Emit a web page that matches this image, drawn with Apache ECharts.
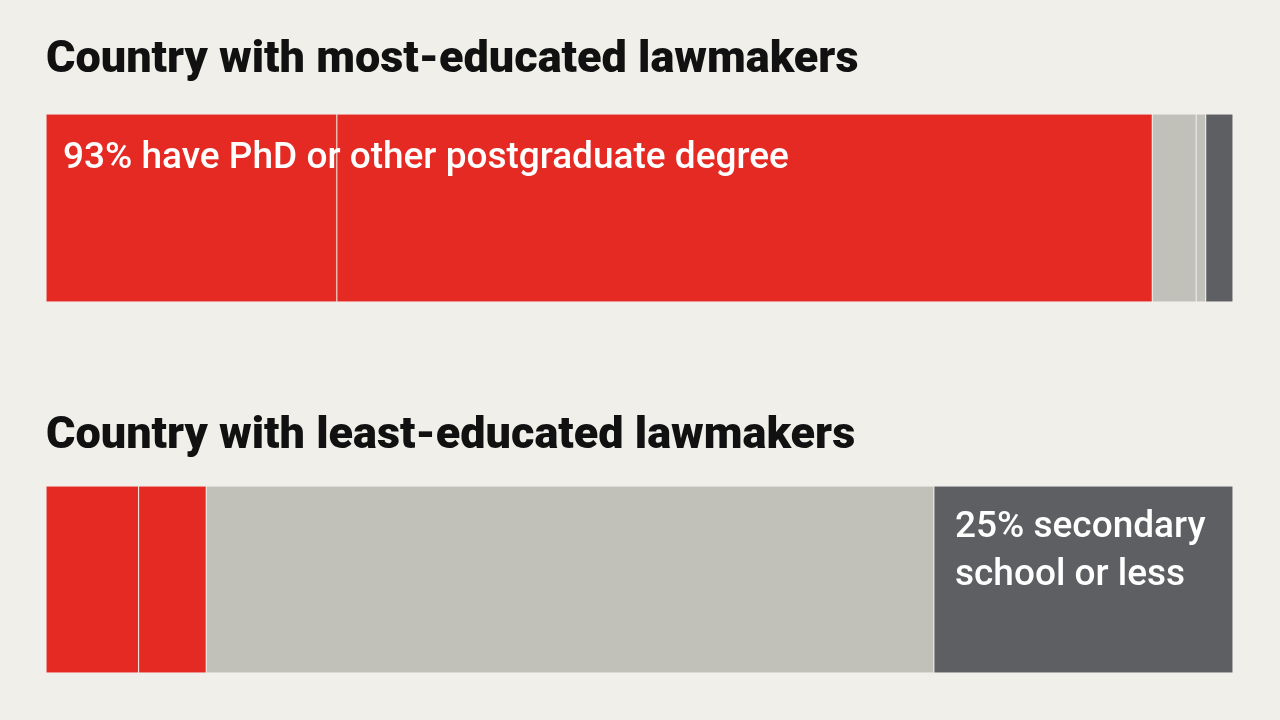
<!DOCTYPE html>
<html><head><meta charset="utf-8">
<script src="https://cdn.jsdelivr.net/npm/echarts@6/dist/echarts.min.js"></script>
<style>html,body{margin:0;background:#f0efea}#c{width:1280px;height:720px}</style>
</head><body><div id="c"></div>
<script>
const rows = ['most', 'least'];
const phd = [24.5, 7.8];
const masters = [68.7, 5.7];
const bachelor = [3.7, 61.3];
const other = [0.8, 0];
const secondary = [2.3, 25.2];
const titles = ['Country with most-educated lawmakers', 'Country with least-educated lawmakers'];
const labels = ['93% have PhD or other postgraduate degree', '25% secondary\nschool or less'];

const colors = ['#e52a24', '#e52a24', '#c1c1b9', '#c1c1b9', '#5e5f63'];
const groups = [phd, masters, bachelor, other, secondary];
const chart = echarts.init(document.getElementById('c'));
const grids = [{left:46,right:47,top:114,height:188},{left:46,right:47,top:486,height:187}];
const series = [];
rows.forEach((r, ri) => {
  groups.forEach((g, gi) => {
    series.push({type:'bar', stack:'s'+ri, xAxisIndex:ri, yAxisIndex:ri, barWidth:'100%',
      data:[g[ri]], itemStyle:{color:colors[gi], borderColor:'rgba(255,255,255,0.07)', borderWidth:g[ri]>0?1:0},
      silent:true});
  });
});
chart.setOption({
  backgroundColor:'#f0efea',
  animation:false,
  grid:grids,
  xAxis:rows.map((r,i)=>({type:'value',gridIndex:i,min:0,max:100,show:false})),
  yAxis:rows.map((r,i)=>({type:'category',gridIndex:i,data:[r],show:false})),
  series:series,
  graphic:[
    {type:'text',left:46,top:38,style:{text:titles[0],font:'900 45px Roboto',fill:'#111'}},
    {type:'text',left:46,top:414,style:{text:titles[1],font:'900 45px Roboto',fill:'#111'}},
    {type:'text',left:63,top:140,z:10,style:{text:labels[0],font:'500 37px Roboto',fill:'#fff'}},
    {type:'text',left:955,top:504,z:10,style:{text:labels[1],font:'500 37px Roboto',fill:'#fff',lineHeight:48}}
  ]
});
</script></body></html>
